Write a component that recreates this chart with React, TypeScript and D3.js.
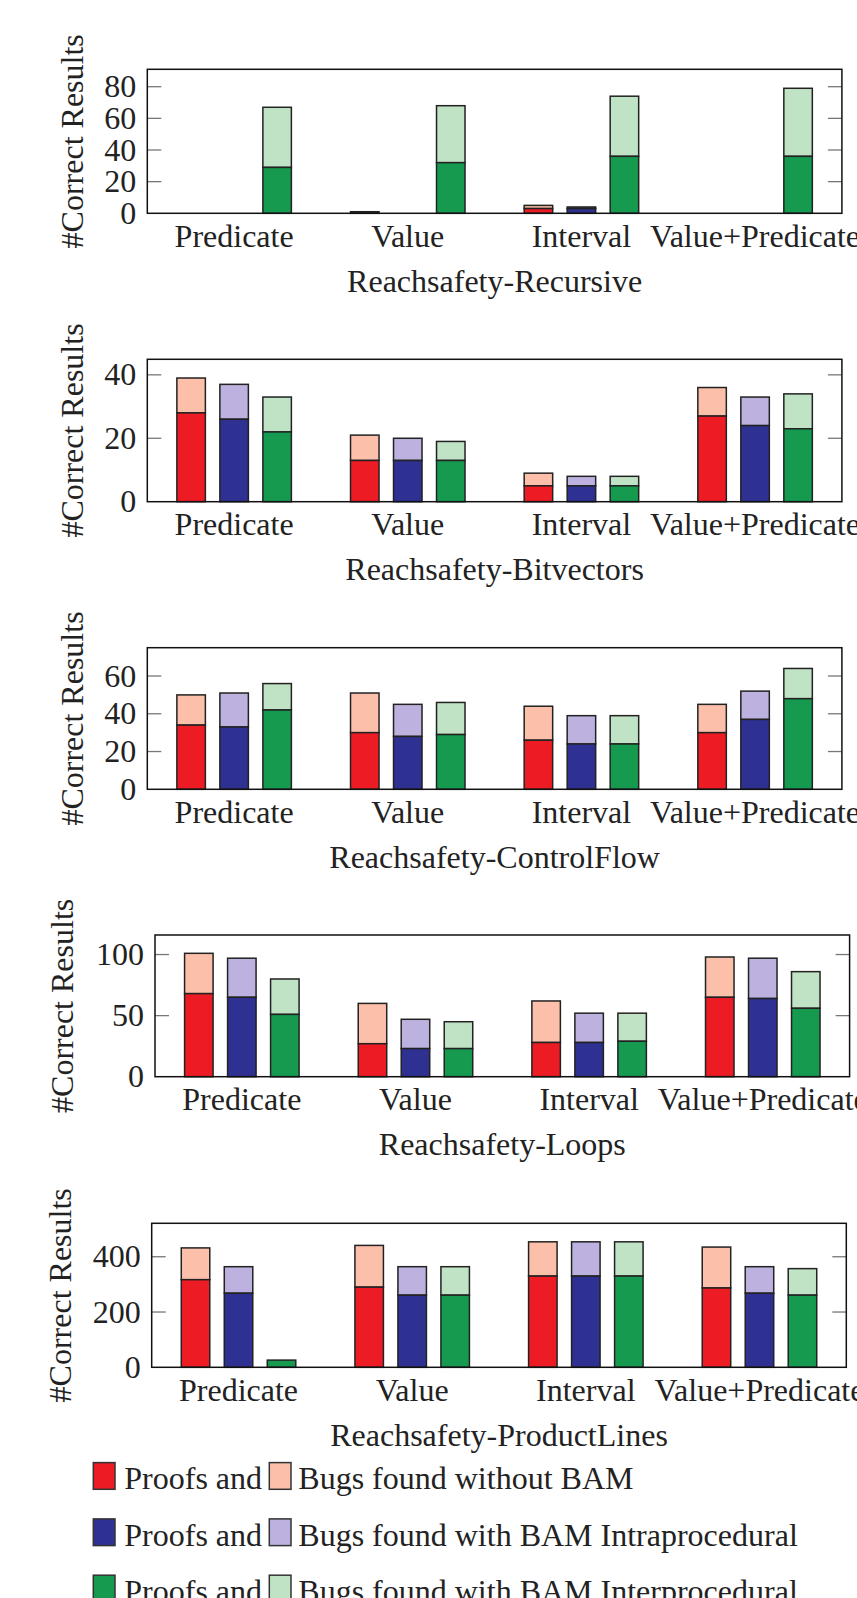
import React, { useEffect, useRef } from "react";
import * as d3 from "d3";

// categories on the x axis
const methods = ["Predicate", "Value", "Interval", "Value+Predicate"];

const panelTitles = [
    "Reachsafety-Recursive",
    "Reachsafety-Bitvectors",
    "Reachsafety-ControlFlow",
    "Reachsafety-Loops",
    "Reachsafety-ProductLines",
];

// y axis ranges and ticks per panel
const yMax = [91, 44.9, 75, 116, 521];
const yTicks = [
    [0, 20, 40, 60, 80],
    [0, 20, 40],
    [0, 20, 40, 60],
    [0, 50, 100],
    [0, 200, 400],
];

// proofs (dark part) per panel, one value per method
const proofsNoBam = [
    [0, 1, 3, 0],
    [28, 13, 5, 27],
    [34, 30, 26, 30],
    [68, 27, 28, 65],
    [317, 290, 330, 287],
];
const proofsIntra = [
    [0, 0, 3, 0],
    [26, 13, 5, 24],
    [33, 28, 24, 37],
    [65, 23, 28, 64],
    [268, 261, 330, 268],
];
const proofsInter = [
    [29, 32, 36, 36],
    [22, 13, 5, 23],
    [42, 29, 24, 48],
    [51, 23, 29, 56],
    [26, 261, 330, 261],
];

// bugs (light part stacked on top)
const bugsNoBam = [
    [0, 0, 2, 0],
    [11, 8, 4, 9],
    [16, 21, 18, 15],
    [33, 33, 34, 33],
    [115, 151, 124, 148],
];
const bugsIntra = [
    [0, 0, 1, 0],
    [11, 7, 3, 9],
    [18, 17, 15, 15],
    [32, 24, 24, 33],
    [96, 103, 124, 96],
];
const bugsInter = [
    [38, 36, 38, 43],
    [11, 6, 3, 11],
    [14, 17, 15, 16],
    [29, 22, 23, 30],
    [0, 103, 124, 96],
];

const seriesNames = [
    "Bugs found without BAM",
    "Bugs found with BAM Intraprocedural",
    "Bugs found with BAM Interprocedural",
];
const darkColors = ["#ED1C24", "#2E3192", "#159A50"];
const lightColors = ["#FCBFA9", "#BDB2DF", "#C0E3C5"];

// layout of each panel (left edge, top, bottom)
const panelLeft = [147.3, 147.3, 147.3, 155, 151.7];
const panelTop = [69.3, 359.3, 647.7, 935, 1223.3];
const panelBottom = [213.3, 501.7, 789.3, 1076.7, 1367.3];
const yLabelX = [83, 83, 83, 73, 71];
const panelWidth = 694.6;

const FONT = "'Liberation Serif', 'Times New Roman', serif";

export default function App() {
    const ref = useRef<SVGSVGElement>(null);

    useEffect(() => {
        const svg = d3.select(ref.current);
        svg.selectAll("*").remove();

        const proofs = [proofsNoBam, proofsIntra, proofsInter];
        const bugs = [bugsNoBam, bugsIntra, bugsInter];

        panelTitles.forEach((title, p) => {
            const left = panelLeft[p];
            const right = left + panelWidth;
            const top = panelTop[p];
            const bottom = panelBottom[p];

            const x = d3.scaleBand<string>()
                .domain(methods)
                .range([left, right])
                .padding(0);

            const y = d3.scaleLinear()
                .domain([0, yMax[p]])
                .range([bottom, top]);

            const g = svg.append("g");

            // bars
            const offsets = [-43, 0, 43];
            const bw = 28.5;
            [0, 1, 2].forEach(s => {
                methods.forEach((m, i) => {
                    const cx = (x(m) as number) + x.bandwidth() / 2 + offsets[s];
                    const pv = proofs[s][p][i];
                    const bv = bugs[s][p][i];
                    if (pv + bv <= 0) return;
                    g.append("rect")
                        .attr("x", cx - bw / 2)
                        .attr("y", y(pv + bv))
                        .attr("width", bw)
                        .attr("height", y(pv) - y(pv + bv))
                        .attr("fill", lightColors[s])
                        .attr("stroke", "#222")
                        .attr("stroke-width", 1.5);
                    g.append("rect")
                        .attr("x", cx - bw / 2)
                        .attr("y", y(pv))
                        .attr("width", bw)
                        .attr("height", y(0) - y(pv))
                        .attr("fill", darkColors[s])
                        .attr("stroke", "#222")
                        .attr("stroke-width", 1.5);
                });
            });

            // ticks on both sides
            yTicks[p].forEach(t => {
                if (t === 0) return;
                g.append("line")
                    .attr("x1", left).attr("x2", left + 14)
                    .attr("y1", y(t)).attr("y2", y(t))
                    .attr("stroke", "#777").attr("stroke-width", 1.3);
                g.append("line")
                    .attr("x1", right - 14).attr("x2", right)
                    .attr("y1", y(t)).attr("y2", y(t))
                    .attr("stroke", "#777").attr("stroke-width", 1.3);
            });

            // frame
            g.append("rect")
                .attr("x", left).attr("y", top)
                .attr("width", right - left).attr("height", bottom - top)
                .attr("fill", "none")
                .attr("stroke", "#111")
                .attr("stroke-width", 1.5);

            // tick labels
            yTicks[p].forEach(t => {
                g.append("text")
                    .attr("x", left - 11)
                    .attr("y", y(t) + 10.5)
                    .attr("text-anchor", "end")
                    .style("font-family", FONT)
                    .style("font-size", "32px")
                    .attr("fill", "#222")
                    .text(t);
            });

            methods.forEach(m => {
                g.append("text")
                    .attr("x", (x(m) as number) + x.bandwidth() / 2)
                    .attr("y", bottom + 33.4)
                    .attr("text-anchor", "middle")
                    .style("font-family", FONT)
                    .style("font-size", "32px")
                    .attr("fill", "#222")
                    .text(m);
            });

            g.append("text")
                .attr("x", (left + right) / 2)
                .attr("y", bottom + 78.4)
                .attr("text-anchor", "middle")
                .style("font-family", FONT)
                .style("font-size", "32px")
                .attr("fill", "#222")
                .text(title);

            g.append("text")
                .attr("transform", `translate(${yLabelX[p]}, ${(top + bottom) / 2}) rotate(-90)`)
                .attr("text-anchor", "middle")
                .style("font-family", FONT)
                .style("font-size", "32px")
                .attr("fill", "#222")
                .text("#Correct Results");
        });

        // legend
        const legend = svg.append("g");
        seriesNames.forEach((name, s) => {
            const base = 1489.3 + s * 56.3;
            legend.append("rect")
                .attr("x", 93.3).attr("y", base - 26.7)
                .attr("width", 21.7).attr("height", 26.7)
                .attr("fill", darkColors[s])
                .attr("stroke", "#333").attr("stroke-width", 1.5);
            legend.append("text")
                .attr("x", 124.3).attr("y", base)
                .style("font-family", FONT)
                .style("font-size", "32px")
                .attr("fill", "#222")
                .text("Proofs and");
            legend.append("rect")
                .attr("x", 269.3).attr("y", base - 26.7)
                .attr("width", 21.7).attr("height", 26.7)
                .attr("fill", lightColors[s])
                .attr("stroke", "#333").attr("stroke-width", 1.5);
            legend.append("text")
                .attr("x", 298.3).attr("y", base)
                .style("font-family", FONT)
                .style("font-size", "32px")
                .attr("fill", "#222")
                .text(name);
        });
    }, []);

    return (
        <svg
            ref={ref}
            width={857}
            height={1598}
            style={{ position: "absolute", left: 0, top: 0, background: "#fff", overflow: "hidden" }}
        />
    );
}
